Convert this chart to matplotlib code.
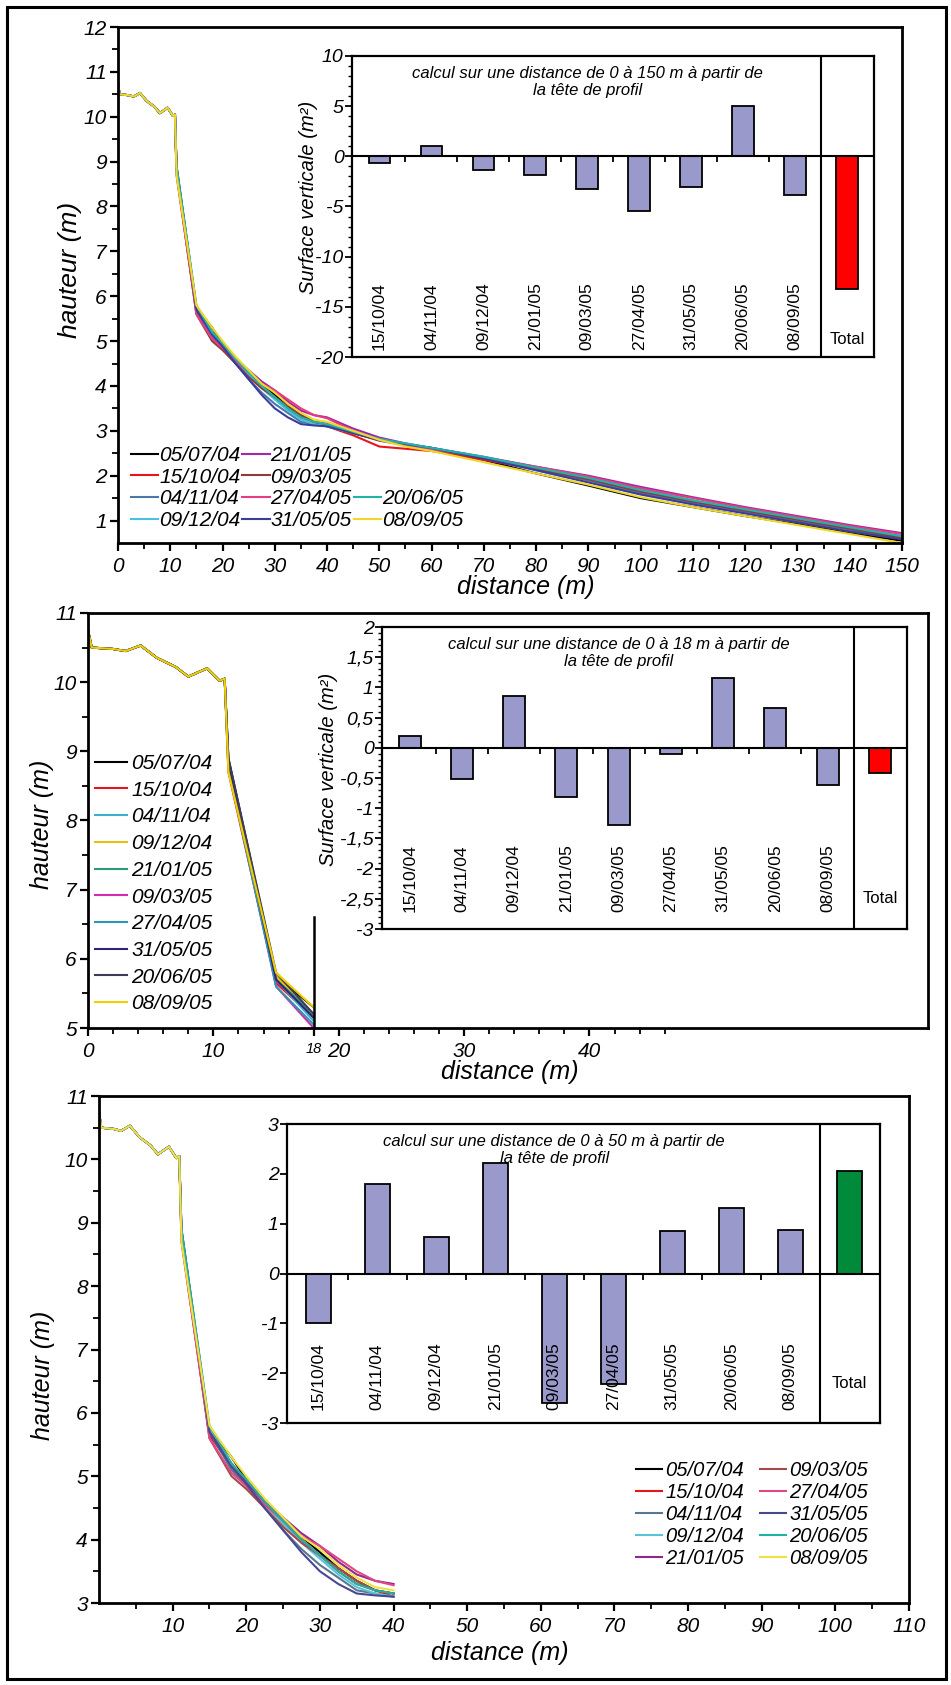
import matplotlib
matplotlib.use("Agg")
import matplotlib.pyplot as plt
import matplotlib.transforms as mtransforms
from matplotlib.lines import Line2D
from matplotlib.patches import Rectangle

plt.rcParams['font.family'] = ['Liberation Sans', 'DejaVu Sans']
plt.rcParams['axes.unicode_minus'] = False

# ---------------- data ----------------
dates = ["05/07/04", "15/10/04", "04/11/04", "09/12/04", "21/01/05",
         "09/03/05", "27/04/05", "31/05/05", "20/06/05", "08/09/05"]

# profile head (identical for every survey), distance (m) / height (m)
head_dist = [0, 0.3, 2, 3, 4.2, 5.5, 7, 8, 9.5, 10.5, 10.9]
head_height = [10.75, 10.5, 10.48, 10.45, 10.53, 10.35, 10.22, 10.08, 10.2, 10.02, 10.05]

# rest of the profile
tail_dist = [11.2, 15, 18, 20, 22.5, 25, 27.5, 30, 32.5, 35, 37.5, 40, 45, 50,
             55, 60, 70, 80, 90, 100, 110, 120, 130, 140, 150]
h_050704 = [8.9, 5.75, 5.3, 4.95, 4.6, 4.3, 4.05, 3.8, 3.55, 3.35, 3.2, 3.15, 2.95, 2.8,
            2.7, 2.6, 2.35, 2.05, 1.78, 1.5, 1.3, 1.1, 0.92, 0.72, 0.55]
h_151004 = [8.7, 5.65, 5.15, 4.9, 4.55, 4.25, 4.0, 3.75, 3.5, 3.3, 3.2, 3.1, 2.9, 2.65,
            2.6, 2.55, 2.35, 2.15, 1.9, 1.62, 1.4, 1.2, 1.0, 0.82, 0.65]
h_041104 = [8.8, 5.7, 5.1, 4.85, 4.5, 4.15, 3.85, 3.6, 3.4, 3.2, 3.15, 3.1, 2.95, 2.8,
            2.7, 2.62, 2.4, 2.15, 1.9, 1.6, 1.4, 1.2, 1.0, 0.8, 0.6]
h_091204 = [8.75, 5.75, 5.2, 4.9, 4.55, 4.25, 3.95, 3.7, 3.45, 3.25, 3.15, 3.1, 2.95, 2.8,
            2.7, 2.6, 2.4, 2.18, 1.95, 1.7, 1.45, 1.25, 1.05, 0.85, 0.65]
h_210105 = [8.85, 5.7, 5.2, 4.9, 4.6, 4.35, 4.1, 3.9, 3.65, 3.45, 3.35, 3.3, 3.05, 2.85,
            2.72, 2.62, 2.42, 2.2, 2.0, 1.75, 1.52, 1.3, 1.1, 0.9, 0.72]
h_090305 = [8.8, 5.6, 5.0, 4.8, 4.5, 4.2, 3.95, 3.75, 3.55, 3.35, 3.2, 3.15, 2.95, 2.78,
            2.68, 2.6, 2.38, 2.15, 1.92, 1.65, 1.42, 1.22, 1.02, 0.82, 0.62]
h_270405 = [8.75, 5.6, 5.05, 4.85, 4.55, 4.3, 4.05, 3.9, 3.7, 3.5, 3.35, 3.28, 3.0, 2.8,
            2.68, 2.6, 2.4, 2.2, 1.98, 1.72, 1.5, 1.28, 1.08, 0.88, 0.7]
h_310505 = [8.85, 5.7, 5.15, 4.88, 4.5, 4.15, 3.8, 3.5, 3.3, 3.15, 3.12, 3.1, 2.95, 2.8,
            2.7, 2.62, 2.38, 2.12, 1.85, 1.58, 1.36, 1.16, 0.96, 0.76, 0.58]
h_200605 = [8.9, 5.8, 5.2, 4.95, 4.6, 4.3, 4.0, 3.75, 3.5, 3.3, 3.2, 3.15, 2.98, 2.82,
            2.72, 2.62, 2.42, 2.18, 1.95, 1.68, 1.45, 1.25, 1.05, 0.85, 0.65]
h_080905 = [8.7, 5.8, 5.3, 5.0, 4.65, 4.35, 4.05, 3.85, 3.6, 3.4, 3.25, 3.2, 3.0, 2.8,
            2.65, 2.55, 2.3, 2.05, 1.8, 1.52, 1.3, 1.1, 0.9, 0.7, 0.5]
profiles = [h_050704, h_151004, h_041104, h_091204, h_210105,
            h_090305, h_270405, h_310505, h_200605, h_080905]

# vertical surface change between successive surveys (m²)
bar_dates = dates[1:]
surface_0_150 = [-0.67, 1.07, -1.4, -1.9, -3.3, -5.4, -3.1, 5.0, -3.9]
total_0_150 = -13.2
surface_0_18 = [0.2, -0.52, 0.85, -0.82, -1.27, -0.11, 1.15, 0.66, -0.61]
total_0_18 = -0.42
surface_0_50 = [-1.0, 1.8, 0.74, 2.22, -2.6, -2.21, 0.86, 1.31, 0.88]
total_0_50 = 2.05

# line colours for each panel (in survey order)
colors_p1 = ['#000000', '#e8141c', '#4a78a8', '#48c0e0', '#a028a8',
             '#8c3c3c', '#e83c80', '#3c3c9c', '#20b4a8', '#f0d828']
colors_p2 = ['#000000', '#e8141c', '#3cb0c8', '#e8c010', '#2a9a7c',
             '#d02cb0', '#3094b4', '#302478', '#3c3c58', '#f0d000']
colors_p3 = ['#000000', '#e8141c', '#587890', '#58c4d8', '#90288c',
             '#a84848', '#e04884', '#484890', '#20b0a4', '#f0e040']

BAR_COLOR = '#9999cc'

# ---------------- figure ----------------
W, H = 951, 1685
fig = plt.figure(figsize=(W / 100, H / 100), dpi=100)


def rect(l, t, r, b):
    return [l / W, 1 - b / H, (r - l) / W, (b - t) / H]


fig.patches.append(Rectangle((7 / W, 1 - 1679 / H), (946 - 7) / W, (1679 - 7) / H,
                             transform=fig.transFigure, fill=False, lw=2.2,
                             ec='black', zorder=0))


def draw_profiles(ax, xmax, colors):
    for prof, col, lab in zip(profiles, colors, dates):
        xs = head_dist + [d for d in tail_dist if d <= xmax]
        ys = head_height + [h for d, h in zip(tail_dist, prof) if d <= xmax]
        ax.plot(xs, ys, color=col, lw=1.5, label=lab)


def style_main(ax, lw=2.0):
    for s in ax.spines.values():
        s.set_linewidth(lw)
    ax.tick_params(which='major', direction='out', length=6, width=1.6,
                   top=False, right=False)
    ax.tick_params(which='minor', direction='out', length=4, width=1.3,
                   top=False, right=False)
    ax.tick_params(axis='y', pad=2)
    ax.tick_params(axis='x', pad=4)


def italic_ticks(ax, axis, ticks, labels, size=15):
    if axis == 'x':
        ax.set_xticks(ticks, labels=labels, fontstyle='italic', fontsize=size)
    else:
        ax.set_yticks(ticks, labels=labels, fontstyle='italic', fontsize=size)


def comma(v):
    s = f"{v:g}"
    return s.replace('.', ',')


def draw_inset(r, values, total, total_color, ylim, major, minor, title,
               ylabel, label_off_px, total_off_px, ylabel_x):
    ax = fig.add_axes(r)
    ax.set_facecolor('white')
    n = len(values)
    pos = list(range(n))
    sep = n - 0.5
    ax.bar(pos, values, width=0.42, color=BAR_COLOR, edgecolor='black', lw=1.3, zorder=3)
    ax.bar([n], [total], width=0.42, color=total_color, edgecolor='black', lw=1.3, zorder=3)
    ax.set_xlim(-0.53, n + 0.52)
    ax.set_ylim(*ylim)
    ax.axhline(0, color='black', lw=1.5, zorder=4)
    ax.axvline(sep, color='black', lw=1.5, zorder=4)
    ax.plot([p + 0.5 for p in pos[:-1]], [0] * (n - 1), ls='none', marker=3,
            ms=4, mew=1.3, color='black', zorder=4)
    for s in ax.spines.values():
        s.set_linewidth(1.6)
    ax.set_xticks([])
    ticks = [ylim[0] + i * major for i in range(int(round((ylim[1] - ylim[0]) / major)) + 1)]
    ax.set_yticks(ticks, labels=[comma(t) for t in ticks], fontstyle='italic', fontsize=14)
    if minor:
        mt = [ylim[0] + i * minor for i in range(int(round((ylim[1] - ylim[0]) / minor)) + 1)]
        ax.set_yticks(mt, minor=True)
    ax.tick_params(which='major', direction='out', length=5, width=1.3, pad=1)
    ax.tick_params(which='minor', direction='out', length=3, width=1.0)
    bbox = ax.get_position()
    hpx = bbox.height * H
    trans = mtransforms.blended_transform_factory(ax.transData, ax.transAxes)
    for p, lab in zip(pos, bar_dates):
        ax.text(p, label_off_px / hpx, lab, rotation=90, ha='center', va='bottom',
                fontsize=12.5, transform=trans)
    ax.text(n, total_off_px / hpx, 'Total', ha='center', va='center',
            fontsize=12, transform=trans)
    ax.text((sep - 0.5) / 2, 1 - 26 / hpx, title, ha='center', va='center',
            fontsize=12, fontstyle='italic', linespacing=1.2, transform=trans)
    if ylabel:
        ax.set_ylabel(ylabel, fontsize=14.5, fontstyle='italic')
        ax.yaxis.set_label_coords(ylabel_x, 0.53)
    return ax


# ---------- panel 1 ----------
ax1 = fig.add_axes(rect(118, 27, 902, 543))
draw_profiles(ax1, 150, colors_p1)
ax1.set_xlim(0, 150)
ax1.set_ylim(0.5, 12)
style_main(ax1)
italic_ticks(ax1, 'x', list(range(0, 151, 10)), [str(v) for v in range(0, 151, 10)])
ax1.set_xticks(list(range(5, 150, 10)), minor=True)
italic_ticks(ax1, 'y', list(range(1, 13)), [str(v) for v in range(1, 13)])
ax1.set_yticks([v + 0.5 for v in range(1, 12)], minor=True)
ax1.set_xlabel('distance (m)', fontsize=18, fontstyle='italic')
ax1.xaxis.set_label_coords(0.52, -0.062)
ax1.set_ylabel('hauteur (m)', fontsize=19, fontstyle='italic')
ax1.yaxis.set_label_coords(-0.046, 0.53)

h1, l1 = ax1.get_legend_handles_labels()
blank = Line2D([], [], alpha=0)
order_h = h1[0:4] + h1[4:8] + [blank, blank] + h1[8:10]
order_l = l1[0:4] + l1[4:8] + ['', ''] + l1[8:10]
ax1.legend(order_h, order_l, ncol=3, loc='upper left',
           bbox_to_anchor=(131 / W, 1 - 446 / H), bbox_transform=fig.transFigure,
           frameon=False, borderpad=0, borderaxespad=0, handlelength=1.3,
           handletextpad=0.05, columnspacing=0.1, labelspacing=0.13,
           prop={'style': 'italic', 'size': 15})

draw_inset(rect(352, 56, 874, 357), surface_0_150, total_0_150, '#ff0000',
           (-20, 10), 5, 1,
           "calcul sur une distance de 0 à 150 m à partir de\nla tête de profil",
           "Surface verticale (m²)", 7, 17, -0.065)

# ---------- panel 2 ----------
clip2 = 18
ax2 = fig.add_axes(rect(88, 613, 928, 1028))
draw_profiles(ax2, clip2, colors_p2)
ax2.set_xlim(0, 67)
ax2.set_ylim(5, 11)
ax2.plot([clip2, clip2], [5, 6.6], color='black', lw=1.8)
style_main(ax2)
italic_ticks(ax2, 'x', [0, 10, 18, 20, 30, 40], ['0', '10', '18', '20', '30', '40'])
ax2.xaxis.get_major_ticks()[2].label1.set_fontsize(10.5)
ax2.set_xticks(list(range(2, 47, 2)), minor=True)
italic_ticks(ax2, 'y', list(range(5, 12)), [str(v) for v in range(5, 12)])
ax2.set_yticks([v + 0.5 for v in range(5, 11)], minor=True)
ax2.set_xlabel('distance (m)', fontsize=18, fontstyle='italic')
ax2.xaxis.set_label_coords(0.502, -0.078)
ax2.set_ylabel('hauteur (m)', fontsize=18, fontstyle='italic')
ax2.yaxis.set_label_coords(-0.040, 0.49)
ax2.legend(loc='upper left', bbox_to_anchor=(95 / W, 1 - 754 / H),
           bbox_transform=fig.transFigure, frameon=False, borderpad=0,
           borderaxespad=0, handlelength=1.55, handletextpad=0.2,
           labelspacing=0.37, prop={'style': 'italic', 'size': 15})

draw_inset(rect(382, 627, 907, 929), surface_0_18, total_0_18, '#ff0000',
           (-3, 2), 0.5, 0.1,
           "calcul sur une distance de 0 à 18 m à partir de\nla tête de profil",
           "Surface verticale (m²)", 17, 31, -0.084)

# ---------- panel 3 ----------
clip3 = 40
ax3 = fig.add_axes(rect(99, 1096, 909, 1603))
draw_profiles(ax3, clip3, colors_p3)
ax3.set_xlim(0, 110)
ax3.set_ylim(3, 11)
style_main(ax3)
italic_ticks(ax3, 'x', list(range(10, 111, 10)), [str(v) for v in range(10, 111, 10)])
ax3.set_xticks(list(range(5, 110, 10)), minor=True)
italic_ticks(ax3, 'y', list(range(3, 12)), [str(v) for v in range(3, 12)])
ax3.set_yticks([v + 0.5 for v in range(3, 11)], minor=True)
ax3.set_xlabel('distance (m)', fontsize=18, fontstyle='italic')
ax3.xaxis.set_label_coords(0.495, -0.074)
ax3.set_ylabel('hauteur (m)', fontsize=18, fontstyle='italic')
ax3.yaxis.set_label_coords(-0.054, 0.45)
ax3.legend(ncol=2, loc='upper left', bbox_to_anchor=(636 / W, 1 - 1461 / H),
           bbox_transform=fig.transFigure, frameon=False, borderpad=0,
           borderaxespad=0, handlelength=1.3, handletextpad=0.15,
           columnspacing=0.8, labelspacing=0.15, prop={'style': 'italic', 'size': 14.5})

draw_inset(rect(287, 1124, 880, 1423), surface_0_50, total_0_50, '#008a3a',
           (-3, 3), 1, None,
           "calcul sur une distance de 0 à 50 m à partir de\nla tête de profil",
           None, 13, 40, 0)

fig.savefig('out.png', dpi=100)
